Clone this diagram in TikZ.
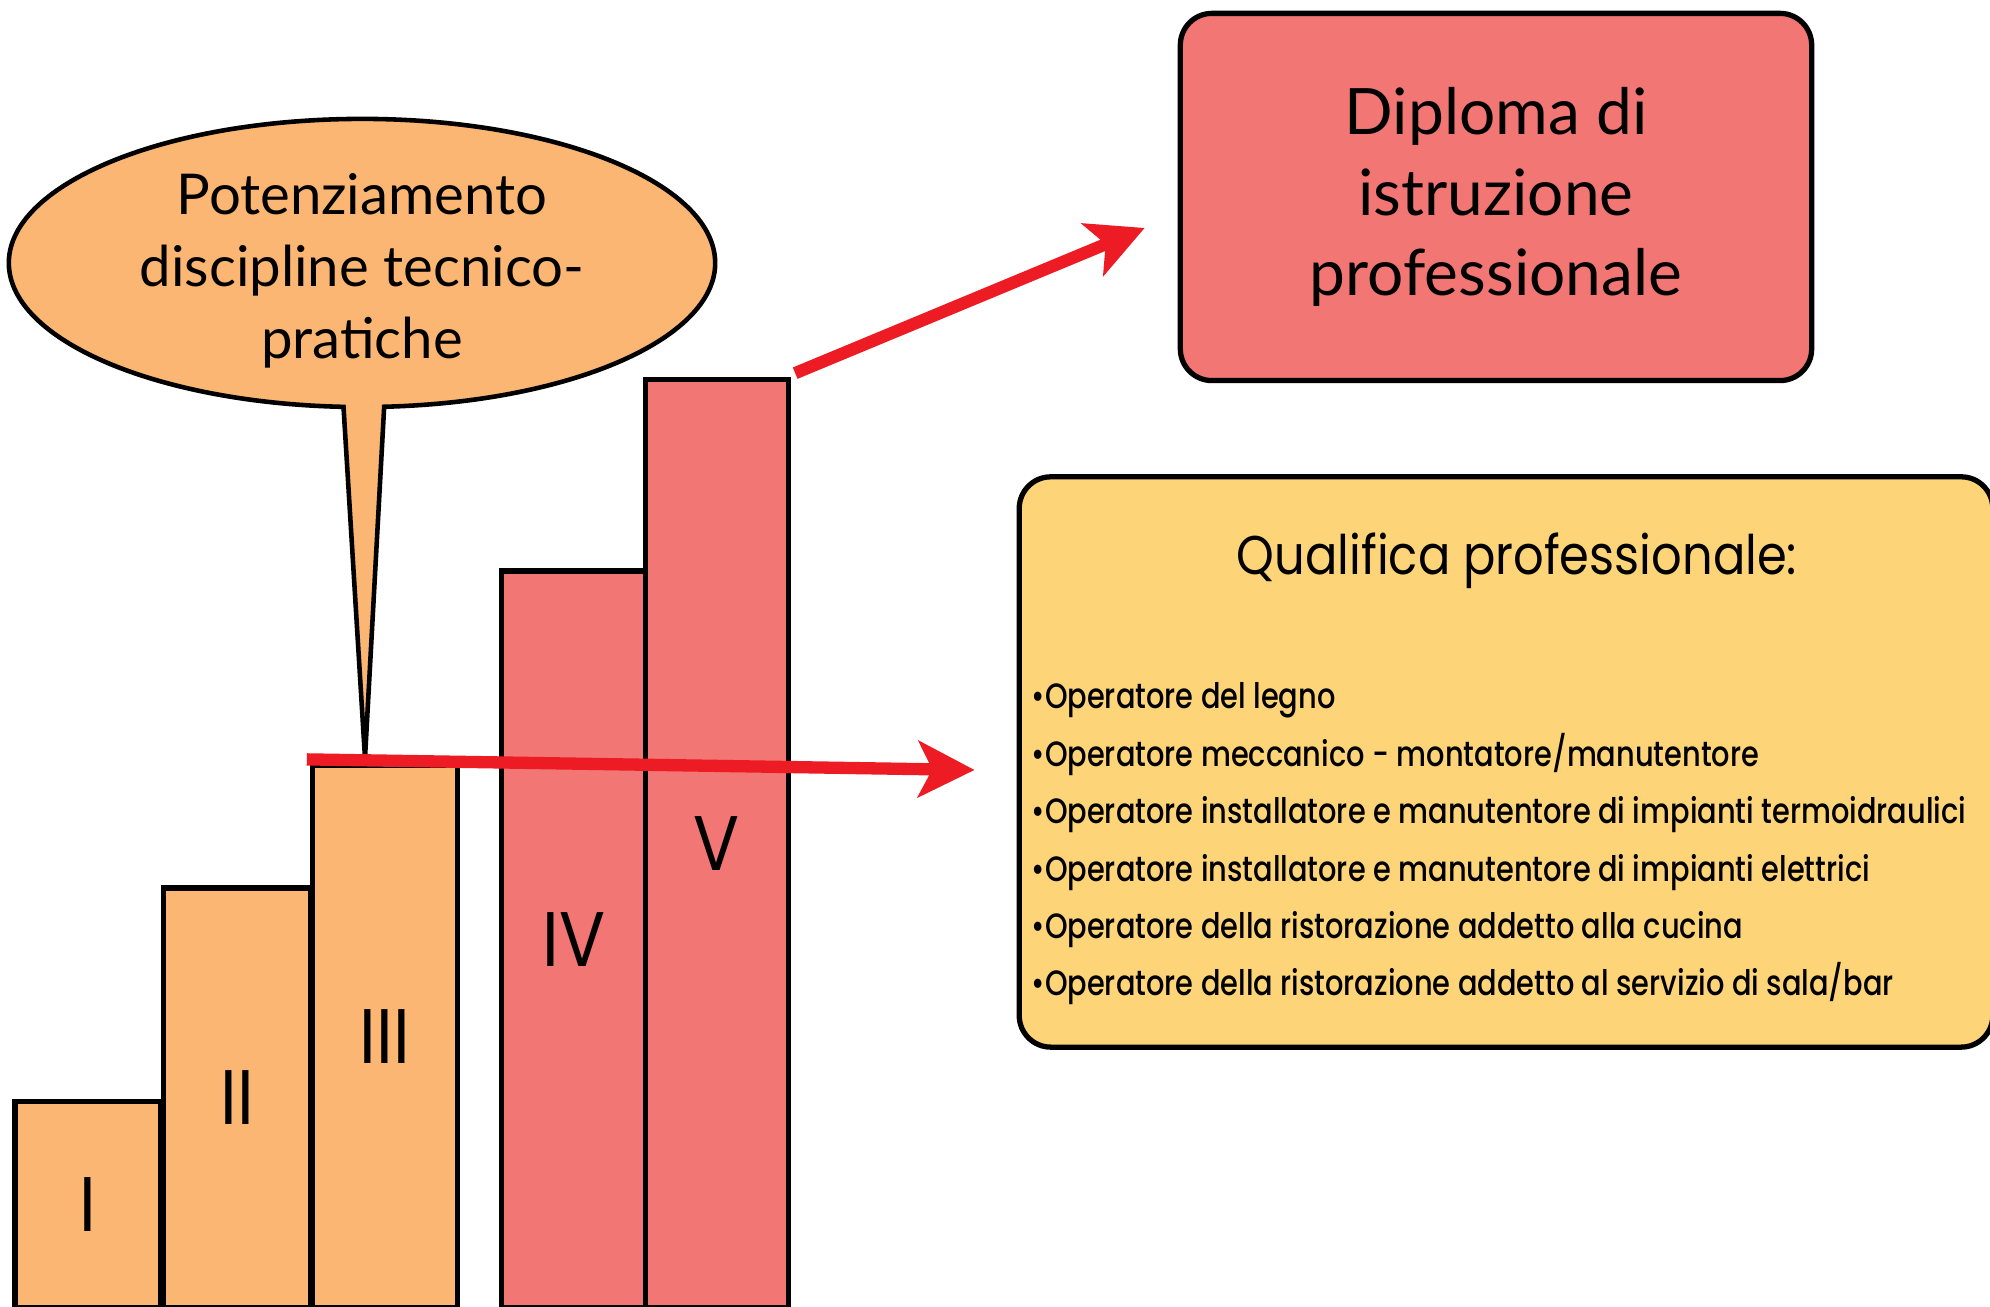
\documentclass[tikz,border=0pt]{standalone}
\usepackage{fontspec}
\setmainfont{Lato}
\newfontfamily\geofont[FakeStretch=0.82]{Poppins Medium}
\newfontfamily\geotitle[FakeStretch=0.88]{Poppins}
\usetikzlibrary{arrows.meta,positioning}
\definecolor{palOrange}{HTML}{FAB672}
\definecolor{palPink}{HTML}{F27674}
\definecolor{palYellow}{HTML}{FDD477}
\definecolor{palRed}{HTML}{ED1C24}

\begin{document}
\begin{tikzpicture}[
  x=0.01cm, y=0.01cm,
  bar/.style={draw, line width=1.5pt, inner sep=0pt, anchor=south, font=\geotitle\fontsize{22}{26}\selectfont},
  lowbar/.style={bar, fill=palOrange},
  highbar/.style={bar, fill=palPink},
  card/.style={draw, line width=1.5pt, rounded corners=9pt, inner sep=0pt},
  arrow/.style={-{Stealth[length=16pt,width=16pt,inset=4pt]}, line width=3.5pt, palRed},
]
\useasboundingbox (0,0) rectangle (1990,1307);
\clip (0,0) rectangle (1990,1307);

% anni di corso
\node[lowbar, minimum width=1.46cm, minimum height=2.06cm] (c1) at (88,-3) {I};
\node[lowbar, minimum width=1.47cm, minimum height=4.19cm] (c2) at (237,-3) {II};
\node[lowbar, minimum width=1.45cm, minimum height=5.42cm] (c3) at (385,-3) {III};
\node[highbar, minimum width=1.45cm, minimum height=7.36cm] (c4) at (574,-3) {IV};
\node[highbar, minimum width=1.43cm, minimum height=9.27cm] (c5) at (717,-3) {V};

% fumetto
\coordinate (cc) at (362,1044);
\coordinate (tip) at (365,549);
\draw[fill=palOrange, line width=1.3pt] (cc) ++(273.6:3.53cm and 1.44cm)
  arc[start angle=273.6, end angle=627, x radius=3.53cm, y radius=1.44cm] -- (tip) -- cycle;
\node[font=\fontsize{16}{20.5}\selectfont, align=center] (callout) at (362,1036) {Potenziamento\\discipline tecnico-\\pratiche};

\node[card, fill=palPink, minimum width=6.31cm, minimum height=3.67cm, align=center,
  font=\fontsize{18.2}{23}\selectfont] (dip) at (1496,1110) {Diploma di\\istruzione\\professionale};

\node[card, fill=palYellow, minimum width=9.73cm, minimum height=5.70cm] (qual) at (1506,545) {};
\node[font=\geotitle\fontsize{15.5}{18}\selectfont, anchor=base] (qtitle) at (1517,732) {Qualifica professionale:};
\foreach \t [count=\i] in {Operatore del legno,
  Operatore meccanico - montatore/manutentore,
  Operatore installatore e manutentore di impianti termoidraulici,
  Operatore installatore e manutentore di impianti elettrici,
  Operatore della ristorazione addetto alla cucina,
  Operatore della ristorazione addetto al servizio di sala/bar}
  \node[font=\geofont\fontsize{10}{12}\selectfont, anchor=base west, inner sep=0pt] (item\i) at (1031,{598-57.4*(\i-1)}) {•\t};

\coordinate (a1s) at ([shift={(4,4)}]c5.north east);
\coordinate (a1e) at ([shift={(-33,-31)}]dip.west);
\draw[arrow] (a1s) -- (a1e);
\coordinate (a2s) at ([shift={(-3,3)}]c3.north west);
\coordinate (a2e) at ([shift={(-42,-8)}]qual.west);
\draw[arrow] (a2s) -- (a2e);
\end{tikzpicture}
\end{document}
